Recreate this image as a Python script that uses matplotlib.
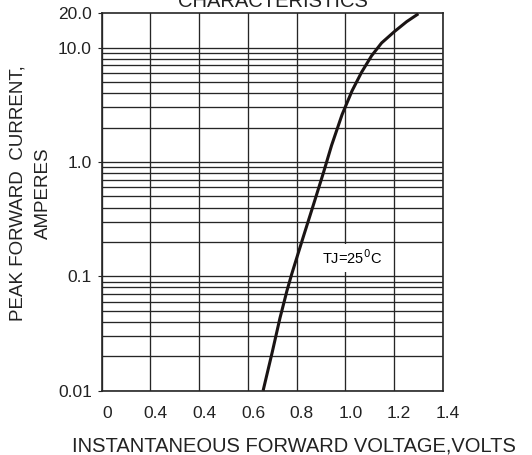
import matplotlib
matplotlib.use('Agg')
import matplotlib.pyplot as plt
import matplotlib.transforms as mtransforms

plt.rcParams['font.family'] = ['Liberation Sans', 'DejaVu Sans']

# curve (volts, amperes)
volts = [0.662, 0.699, 0.731, 0.760, 0.779, 0.800, 0.827, 0.871, 0.909, 0.943,
         0.986, 1.027, 1.066, 1.107, 1.148, 1.200, 1.251, 1.299]
amps = [0.01, 0.0215, 0.043, 0.075, 0.104, 0.145, 0.222, 0.44, 0.80, 1.40,
        2.6, 4.2, 6.1, 8.5, 11.0, 13.8, 16.9, 19.8]

# tick labels as printed (second one is "0.4" in the original too)
xticks = [0, 0.2, 0.4, 0.6, 0.8, 1.0, 1.2, 1.4]
xlabels = ['0', '0.4', '0.4', '0.6', '0.8', '1.0', '1.2', '1.4']
yticks = [0.01, 0.1, 1.0, 10.0, 20.0]
ylabels = ['0.01', '0.1', '1.0', '10.0', '20.0']

fig = plt.figure(figsize=(5.32, 4.55), dpi=100)
ax = fig.add_axes([0.1912, 0.1413, 0.6415, 0.8295])
ax.set_yscale('log')
ax.set_xlim(0, 1.4)
ax.set_ylim(0.01, 20)

gc = '#262626'
# grid: vertical every 0.2, horizontal at 1..9 of each decade
for x in xticks:
    ax.axvline(x, color=gc, lw=0.95, zorder=1)
for dec in [0.01, 0.1, 1.0]:
    for m in range(1, 10):
        ax.axhline(dec * m, color=gc, lw=0.95, zorder=1)
ax.axhline(10.0, color=gc, lw=0.95, zorder=1)

ax.plot(volts, amps, color='#1a1414', lw=2.2, zorder=3, solid_capstyle='butt')

ax.text(1.025, 0.145, 'TJ=25$^0$C', fontsize=10.5, ha='center', va='center',
        zorder=4, bbox=dict(facecolor='white', edgecolor='none', pad=3))

ax.set_xticks(xticks)
ax.set_xticklabels(xlabels, fontsize=12.5)
ax.set_yticks(yticks)
ax.set_yticklabels(ylabels, fontsize=12.5)
ax.yaxis.set_minor_locator(matplotlib.ticker.NullLocator())
ax.tick_params(axis='x', length=0, pad=11, colors='#222222')
ax.tick_params(axis='y', length=3, pad=4, colors='#222222')
# labels sit a little right of the grid lines in the original
shift = mtransforms.ScaledTranslation(5 / 100, 0, fig.dpi_scale_trans)
for lab in ax.get_xticklabels():
    lab.set_transform(lab.get_transform() + shift)
for s in ax.spines.values():
    s.set_color(gc)
    s.set_linewidth(1.2)

fig.text(294 / 532, 1 - 446 / 455, 'INSTANTANEOUS FORWARD VOLTAGE,VOLTS',
         fontsize=14.5, ha='center', va='center', color='#222222')
fig.text(18.5 / 532, 1 - 193 / 455, 'PEAK FORWARD  CURRENT,', rotation=90,
         fontsize=13.5, ha='center', va='center', color='#222222')
fig.text(43.5 / 532, 1 - 193 / 455, 'AMPERES', rotation=90,
         fontsize=13.5, ha='center', va='center', color='#222222')
fig.text(273 / 532, 1 - 6.7 / 455, 'CHARACTERISTICS', fontsize=14.5,
         ha='center', va='baseline', color='#222222')

fig.savefig('out.png', dpi=100)
